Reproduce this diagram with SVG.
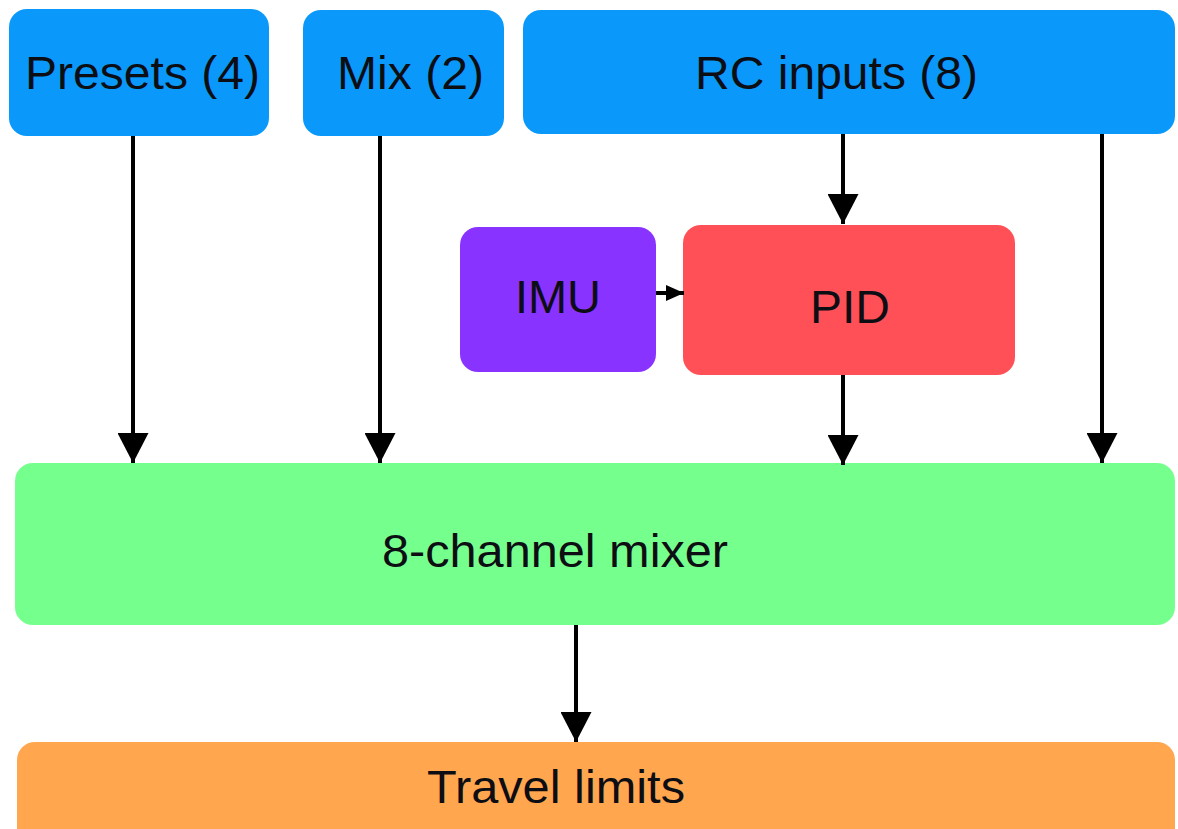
<svg xmlns="http://www.w3.org/2000/svg" width="1178" height="829" viewBox="0 0 1178 829">
  <defs>
    <marker id="head" viewBox="0 0 30 31" refX="30" refY="15.5" markerWidth="30" markerHeight="31" markerUnits="userSpaceOnUse" orient="auto">
      <path d="M0,0 L30,15.5 L0,31 Z" fill="#000"/>
    </marker>
    <marker id="headSmall" viewBox="0 0 18 16" refX="18" refY="8" markerWidth="18" markerHeight="16" markerUnits="userSpaceOnUse" orient="auto">
      <path d="M0,0 L18,8 L0,16 Z" fill="#000"/>
    </marker>
    <style>
      .box { stroke: none; }
      .blue { fill: #0a99fa; }
      .purple { fill: #8833ff; }
      .red { fill: #ff4f57; }
      .green { fill: #75ff8d; }
      .orange { fill: #ffa64f; }
      .label { font-family: "Liberation Sans", Arial, sans-serif; font-size: 46px; fill: #0d0d14; }
      .wire { stroke: #000; stroke-width: 4; fill: none; }
    </style>
  </defs>

  <rect width="1178" height="829" fill="#fff"/>

  <g id="presets">
    <rect class="box blue" x="9" y="9" width="260" height="127" rx="18"/>
    <text class="label" x="25" y="89" textLength="235" lengthAdjust="spacingAndGlyphs">Presets (4)</text>
  </g>

  <g id="mix">
    <rect class="box blue" x="303" y="10" width="201" height="126" rx="18"/>
    <text class="label" x="337" y="89" textLength="147" lengthAdjust="spacingAndGlyphs">Mix (2)</text>
  </g>

  <g id="rc-inputs">
    <rect class="box blue" x="523" y="10" width="652" height="124" rx="18"/>
    <text class="label" x="695" y="89" textLength="283" lengthAdjust="spacingAndGlyphs">RC inputs (8)</text>
  </g>

  <g id="imu">
    <rect class="box purple" x="460" y="227" width="196" height="145" rx="18"/>
    <text class="label" x="515" y="313" textLength="86" lengthAdjust="spacingAndGlyphs">IMU</text>
  </g>

  <g id="pid">
    <rect class="box red" x="683" y="225" width="332" height="150" rx="18"/>
    <text class="label" x="810" y="323" textLength="80" lengthAdjust="spacingAndGlyphs">PID</text>
  </g>

  <g id="mixer">
    <rect class="box green" x="15" y="463" width="1160" height="162" rx="18"/>
    <text class="label" x="382" y="567" textLength="346" lengthAdjust="spacingAndGlyphs">8-channel mixer</text>
  </g>

  <g id="travel-limits">
    <rect class="box orange" x="17" y="742" width="1158" height="110" rx="18"/>
    <text class="label" x="427" y="803" textLength="258" lengthAdjust="spacingAndGlyphs">Travel limits</text>
  </g>

  <g id="connectors">
    <line class="wire" x1="133" y1="136" x2="133" y2="463" marker-end="url(#head)"/>
    <line class="wire" x1="380" y1="136" x2="380" y2="463" marker-end="url(#head)"/>
    <line class="wire" x1="843" y1="134" x2="843" y2="224" marker-end="url(#head)"/>
    <line class="wire" x1="1102" y1="134" x2="1102" y2="463" marker-end="url(#head)"/>
    <line class="wire" x1="843" y1="375" x2="843" y2="465" marker-end="url(#head)"/>
    <line class="wire" x1="656" y1="293" x2="684" y2="293" marker-end="url(#headSmall)"/>
    <line class="wire" x1="576" y1="625" x2="576" y2="742" marker-end="url(#head)"/>
  </g>
</svg>
